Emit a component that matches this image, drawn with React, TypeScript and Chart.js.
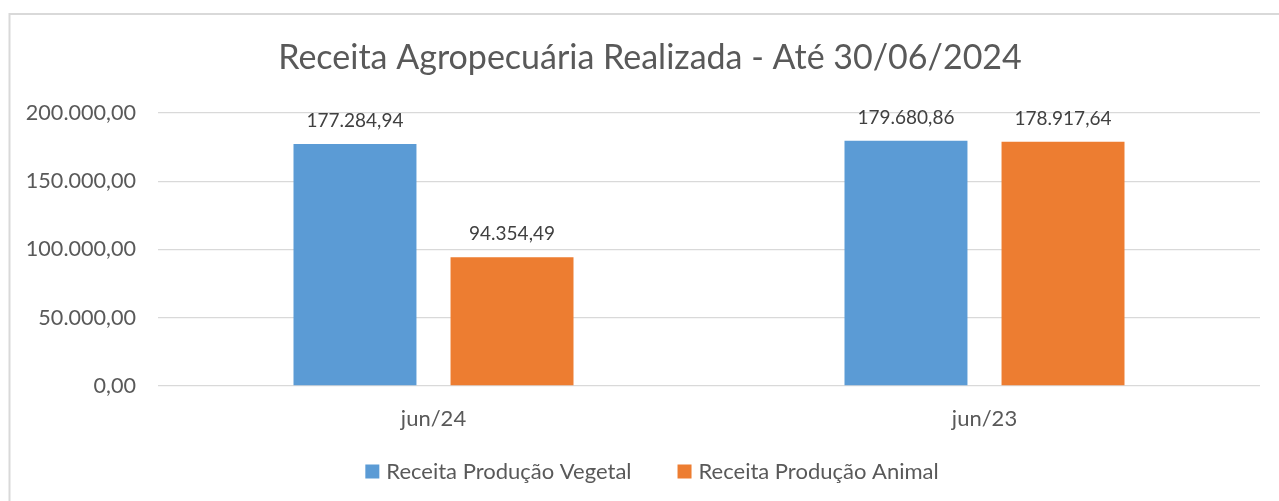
import React, { useEffect, useRef } from "react";
import { Chart, registerables } from "chart.js";

Chart.register(...registerables);

const categories = ["jun/24", "jun/23"];
const vegetal = [177284.94, 179680.86];
const animal = [94354.49, 178917.64];
const seriesNames = ["Receita Produção Vegetal", "Receita Produção Animal"];
const seriesColors = ["#5b9bd5", "#ed7d31"];
const titleText = "Receita Agropecuária Realizada - Até 30/06/2024";

const FONT = "Lato, 'Open Sans', sans-serif";

function fmt(v: number): string {
  const neg = v < 0;
  const fixed = Math.abs(v).toFixed(2);
  const [intPart, dec] = fixed.split(".");
  const withDots = intPart.replace(/\B(?=(\d{3})+(?!\d))/g, ".");
  return (neg ? "-" : "") + withDots + "," + dec;
}

const framePlugin = {
  id: "frame",
  afterLayout(chart: any) {
    // center the title like the reference (slightly right of canvas center)
    if (chart.titleBlock) {
      chart.titleBlock.left = 40;
    }
  },
  beforeDraw(chart: any) {
    const ctx = chart.ctx;
    ctx.save();
    ctx.fillStyle = "#ffffff";
    ctx.fillRect(0, 0, chart.width, chart.height);
    ctx.strokeStyle = "#d9d9d9";
    ctx.lineWidth = 2;
    ctx.beginPath();
    ctx.moveTo(9.5, chart.height + 2);
    ctx.lineTo(9.5, 14);
    ctx.lineTo(chart.width + 2, 14);
    ctx.stroke();
    ctx.restore();
  },
};

const labelPlugin = {
  id: "valueLabels",
  afterDatasetsDraw(chart: any) {
    const ctx = chart.ctx;
    ctx.save();
    ctx.font = `19px ${FONT}`;
    ctx.fillStyle = "#404040";
    ctx.textAlign = "center";
    ctx.textBaseline = "alphabetic";
    chart.data.datasets.forEach((ds: any, i: number) => {
      const meta = chart.getDatasetMeta(i);
      meta.data.forEach((el: any, j: number) => {
        ctx.fillText(fmt(ds.data[j]), el.x, el.y - 17);
      });
    });
    ctx.restore();
  },
};

const legendPlugin = {
  id: "customLegend",
  afterDraw(chart: any) {
    const ctx = chart.ctx;
    ctx.save();
    ctx.font = `22px ${FONT}`;
    ctx.textBaseline = "alphabetic";
    ctx.textAlign = "left";
    const box = 14;
    const gapText = 7;
    const gapItem = 46;
    const items = chart.data.datasets.map((ds: any) => ({
      text: ds.label,
      color: ds.backgroundColor,
      w: ctx.measureText(ds.label).width,
    }));
    const total = items.reduce((s: number, it: any) => s + box + gapText + it.w, 0) + gapItem * (items.length - 1);
    let x = 652 - total / 2;
    const baseline = 479;
    items.forEach((it: any) => {
      ctx.fillStyle = it.color;
      ctx.fillRect(x, 464.5, box, box);
      x += box + gapText;
      ctx.fillStyle = "#595959";
      ctx.fillText(it.text, x, baseline);
      x += it.w + gapItem;
    });
    ctx.restore();
  },
};

export default function App() {
  const ref = useRef<HTMLCanvasElement>(null);
  useEffect(() => {
    if (!ref.current) return;
    const chart = new Chart(ref.current, {
      type: "bar",
      data: {
        labels: categories,
        datasets: [
          {
            label: seriesNames[0],
            data: vegetal,
            backgroundColor: seriesColors[0],
            barPercentage: 0.783,
            categoryPercentage: 0.57,
          },
          {
            label: seriesNames[1],
            data: animal,
            backgroundColor: seriesColors[1],
            barPercentage: 0.783,
            categoryPercentage: 0.57,
          },
        ],
      },
      options: {
        animation: false,
        responsive: false,
        layout: { padding: { left: 0, right: 19, top: 0, bottom: 0 } },
        plugins: {
          title: {
            display: true,
            text: titleText,
            color: "#595959",
            font: { family: FONT, size: 34, weight: "normal" as any, lineHeight: 1.2 },
            padding: { top: 37.6, bottom: 34.6 },
          },
          legend: { display: false },
          tooltip: { enabled: false },
        },
        scales: {
          x: {
            grid: { display: false, drawTicks: false },
            border: { display: false },
            ticks: {
              color: "#595959",
              font: { family: FONT, size: 22 },
              padding: 20,
            },
            afterFit(scale: any) {
              scale.height = 115;
            },
          },
          y: {
            min: 0,
            max: 200000,
            grid: { color: "#d9d9d9", lineWidth: 1.3, drawTicks: false },
            border: { display: false },
            ticks: {
              stepSize: 50000,
              color: "#595959",
              font: { family: FONT, size: 21.6 },
              padding: 22,
              callback: (v: any) => fmt(Number(v)),
            },
            afterFit(scale: any) {
              scale.width = 158;
            },
          },
        },
      },
      plugins: [framePlugin, labelPlugin, legendPlugin],
    });
    return () => chart.destroy();
  }, []);
  return (
    <div style={{ position: "absolute", left: 0, top: 0, width: 1279, height: 501 }}>
      <canvas ref={ref} width={1279} height={501} style={{ display: "block" }} />
    </div>
  );
}
